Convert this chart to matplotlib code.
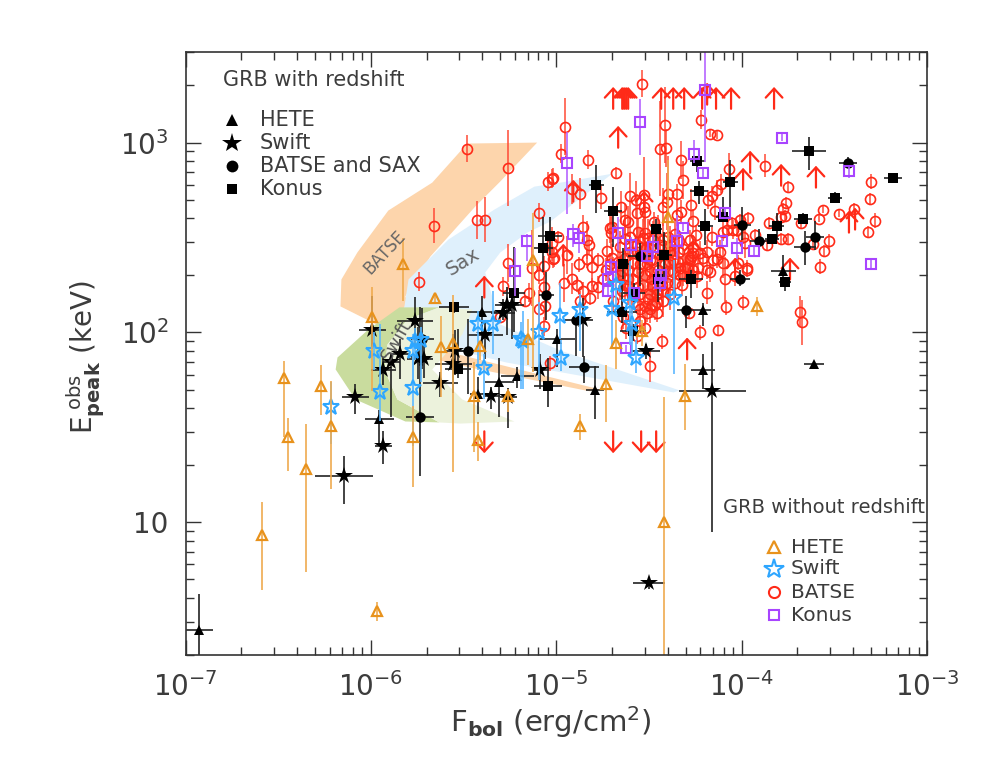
import numpy as np
import matplotlib
matplotlib.use('Agg')
import matplotlib.pyplot as plt
from matplotlib.ticker import LogLocator, FixedLocator, FixedFormatter, NullFormatter

plt.rcParams['font.family'] = 'DejaVu Sans'
plt.rcParams['mathtext.default'] = 'regular'

# all values below are log10(F_bol) and log10(E_peak)
# GRB without redshift: BATSE
batse_f = [-5.480,-5.259,-5.658,-5.426,-5.383,-5.092,-5.043,-5.022,-5.738,-5.259,
 -5.286,-5.129,-5.065,-5.092,-5.146,-5.065,-5.167,-5.302,-5.092,-5.059,
 -5.065,-5.022,-5.022,-5.016,-4.536,-4.951,-4.412,-4.218,-4.170,-4.132,
 -4.973,-4.828,-4.439,-4.407,-4.326,-3.873,-4.068,-4.677,-5.016,-4.315,
 -3.750,-3.302,-3.308,-4.871,-4.914,-4.757,-4.601,-4.569,-4.526,-4.396,
 -4.348,-4.402,-4.423,-4.181,-4.159,-4.132,-4.111,-4.272,-4.526,-4.650,
 -4.520,-4.563,-4.326,-4.348,-4.143,-4.262,-3.760,-3.776,-3.766,-3.787,
 -3.561,-3.475,-3.394,-3.582,-3.280,-3.318,-3.679,-3.852,-3.965,-4.008,
 -4.051,-4.628,-4.612,-4.472,-4.854,-4.709,-4.704,-4.833,-4.822,-4.989,
 -4.558,-4.359,-4.396,-4.278,-4.245,-4.159,-4.100,-4.046,-4.078,-3.927,
 -3.863,-3.787,-3.750,-3.529,-3.555,-3.615,-3.577,-3.970,-3.981,-4.116,
 -4.186,-4.224,-4.262,-4.267,-4.278,-4.294,-4.332,-4.305,-4.386,-4.337,
 -4.725,-4.655,-4.628,-4.601,-4.563,-4.531,-4.504,-4.774,-4.833,-4.876,
 -4.806,-4.941,-5.011,-4.154,-4.132,-4.100,-4.019,-4.914,-4.957,-4.887,
 -4.806,-4.774,-4.854,-4.817,-4.871,-4.747,-4.693,-4.655,-4.612,-4.558,
 -4.520,-4.493,-4.612,-4.585,-4.547,-4.509,-4.666,-4.644,-4.628,-4.585,
 -4.531,-4.558,-4.612,-4.628,-4.483,-4.493,-4.504,-4.456,-4.456,-4.483,
 -4.520,-4.509,-4.456,-4.693,-4.639,-4.547,-4.520,-4.623,-4.563,-4.429,
 -4.283,-4.224,-4.127,-4.084,-3.992,-3.685,-3.674,-4.186,-4.089,-4.035,
 -3.970,-4.493,-5.032,-4.402,-4.359,-4.321,-4.315,-4.289,-4.262,-4.235,
 -4.240,-4.186,-4.262,-4.278,-4.337,-4.386,-4.024,-3.992]
batse_e = [2.968,2.868,2.563,2.594,2.594,2.631,2.794,2.810,2.268,2.368,
 2.242,2.337,2.352,2.305,2.210,2.237,2.163,2.079,2.121,2.137,
 2.032,2.473,2.426,2.389,3.310,3.084,3.094,3.120,3.047,3.041,
 2.942,2.910,2.968,2.973,2.910,2.878,2.863,2.842,2.815,2.805,
 2.768,2.794,2.705,2.731,2.757,2.710,2.721,2.700,2.726,2.731,
 2.731,2.689,2.663,2.700,2.721,2.752,2.784,2.673,2.663,2.663,
 2.636,2.631,2.636,2.621,2.642,2.589,2.684,2.652,2.615,2.610,
 2.647,2.626,2.652,2.600,2.589,2.531,2.579,2.579,2.605,2.594,
 2.579,2.594,2.584,2.584,2.558,2.552,2.526,2.489,2.463,2.505,
 2.531,2.521,2.505,2.489,2.515,2.505,2.531,2.542,2.542,2.515,
 2.463,2.494,2.494,2.479,2.431,2.468,2.347,2.342,2.473,2.426,
 2.426,2.421,2.452,2.405,2.384,2.347,2.342,2.347,2.426,2.426,
 2.431,2.452,2.494,2.505,2.463,2.500,2.500,2.379,2.389,2.358,
 2.347,2.410,2.394,2.384,2.389,2.368,2.368,2.284,2.258,2.252,
 2.247,2.237,2.216,2.184,2.168,2.279,2.295,2.305,2.279,2.316,
 2.305,2.321,2.331,2.368,2.358,2.358,2.373,2.321,2.394,2.279,
 2.252,2.237,2.242,2.252,2.242,2.200,2.174,2.200,2.158,2.147,
 2.137,2.105,2.105,2.163,2.079,2.058,2.026,2.026,1.979,1.953,
 2.105,2.000,2.011,2.132,2.158,2.110,2.053,2.210,2.279,2.295,
 2.331,1.821,1.837,2.263,2.263,2.252,2.305,2.342,2.331,2.342,
 2.295,2.331,2.421,2.394,2.479,2.463,2.542,2.505]
batse_err = [.07,.20,.09,.10,.12,.05,.05,.05,.05,.10,
 .05,.20,.05,.05,.05,.05,.03,.03,.10,.08,
 .05,.08,.05,.05,.07,.15,.20,.05,.02,.02,
 .05,.05,.25,.10,.10,.06,.08,.03,.05,.10,
 .03,.04,.03,.08,.08,.06,.12,.10,.20,.20,
 .05,.15,.10,.05,.05,.05,.05,.08,.08,.08,
 .08,.10,.06,.06,.05,.06,.03,.03,.03,.03,
 .02,.02,.03,.02,.04,.03,.03,.03,.03,.03,
 .03,.08,.08,.05,.06,.08,.08,.10,.05,.03,
 .07,.08,.08,.05,.05,.05,.05,.05,.05,.03,
 .03,.03,.03,.04,.03,.03,.04,.04,.08,.06,
 .06,.06,.06,.06,.06,.06,.06,.06,.08,.06,
 .06,.08,.12,.10,.08,.10,.10,.04,.05,.04,
 .10,.10,.05,.05,.05,.08,.04,.08,.10,.04,
 .04,.06,.05,.04,.05,.08,.10,.10,.10,.10,
 .10,.10,.10,.10,.10,.10,.10,.08,.10,.10,
 .08,.08,.10,.08,.10,.10,.08,.10,.08,.07,
 .07,.05,.05,.05,.06,.05,.05,.06,.04,.04,
 .03,.04,.03,.04,.04,.08,.12,.06,.12,.05,
 .04,.08,.04,.08,.08,.06,.06,.06,.06,.06,
 .06,.05,.05,.05,.05,.10,.04,.04]

# the crowded middle of the BATSE cloud
dense_f = [-4.456,-4.423,-4.466,-4.429,-4.483,-4.332,-4.369,-4.170,-4.520,-4.547,
 -4.477,-4.450,-4.423,-4.493,-4.439,-4.493,-4.412,-4.369,-4.315,-4.375,
 -4.396,-4.208,-4.601,-4.698,-4.655,-4.709,-4.644,-4.547,-4.558,-4.590,
 -4.547,-4.493,-4.423,-4.386,-4.386,-4.342,-4.439,-4.698,-4.730,-4.563,
 -4.520,-4.483,-4.450]
dense_e = [2.226,2.163,2.147,2.252,2.279,2.305,2.316,2.316,2.526,2.452,
 2.489,2.500,2.489,2.447,2.463,2.384,2.358,2.384,2.437,2.410,
 2.321,2.394,2.426,2.558,2.252,2.358,2.216,2.200,2.147,2.195,
 2.121,2.121,2.216,2.200,2.373,2.373,2.410,2.394,2.331,2.426,
 2.437,2.384,2.331]
dense_err = [.10,.08,.08,.10,.10,.06,.06,.05,.12,.10,
 .10,.12,.10,.08,.10,.10,.08,.08,.07,.08,
 .06,.05,.10,.08,.08,.06,.07,.10,.08,.10,
 .06,.07,.10,.08,.08,.06,.10,.07,.06,.12,
 .10,.10,.10]

# lower limits (arrows up) and upper limits (arrows down)
lim_up_f = [-4.693,-4.644,-4.634,-4.623,-4.612,-4.434,-4.369,-4.310,-4.213,-4.186,-4.138,-4.057,-3.825,
 -4.666,-3.954,-3.992,-3.787,-3.599,-4.908,-4.526,-3.421,-3.388,-4.962,-3.739,-4.035,-4.262,-4.294,-5.388]
lim_up_e = [3.178,3.178,3.178,3.178,3.178,3.178,3.178,3.178,3.178,3.200,3.178,3.178,3.178,
 2.973,2.842,2.752,2.773,2.763,2.689,2.631,2.526,2.542,2.352,2.279,2.279,2.373,1.858,2.184]
lim_dn_f = [-4.693,-4.542,-4.461,-5.388]
lim_dn_e = [1.479,1.479,1.479,1.479]

# GRB without redshift: Konus
kon_f = [-5.156,-5.221,-4.941,-4.547,-4.256,-4.208,-4.197,-3.782,-3.421,-3.302,-4.089,-4.315,-4.666,-4.908,-4.876,
 -4.596,-4.477,-4.509,-4.348,-4.105,-4.024,-3.933,-4.704,-4.434,-4.439,-4.720,-4.720,-4.580,-4.623]
kon_e = [2.479,2.326,2.894,3.110,2.941,2.842,3.278,3.026,2.852,2.358,2.631,2.552,2.526,2.521,2.500,
 2.463,2.452,2.405,2.479,2.479,2.447,2.431,2.347,2.305,2.263,2.284,2.216,2.210,1.916]
kon_hi = [.04,.12,.16,.12,.07,.03,.30,.02,.02,.03,.02,.02,.08,.05,.05,
 .04,.06,.03,.14,.02,.05,.03,.04,.03,.03,.03,.03,.02,.02]
kon_lo = [.105,.135,.27,.175,.05,.03,.38,.02,.04,.03,.02,.02,.09,.07,.08,
 .05,.06,.03,.09,.02,.06,.03,.04,.04,.05,.03,.03,.02,.02]

# GRB without redshift: Swift
swi_f = [-6.213,-5.981,-5.949,-5.771,-5.771,-5.760,-5.728,-5.420,-5.340,-5.388,-5.189,
 -5.178,-5.092,-4.978,-4.973,-4.871,-4.699,-4.601,-4.677,-4.591,-4.569,-4.364]
swi_e = [1.606,1.900,1.684,1.705,1.900,1.953,1.958,2.042,2.047,1.811,1.963,
 1.953,2.000,2.084,1.868,2.116,2.121,2.153,2.252,2.042,1.868,2.179]
swi_hi = [.135,.10,.36,.19,.09,.07,.07,.07,.17,.075,.09,
 .16,.16,.175,.09,.085,.125,.225,.06,.10,.09,.205]
swi_lo = [.195,.10,.15,.305,.22,.10,.22,.24,.16,.16,.26,
 .25,.25,.12,.07,.215,.21,.22,.13,.16,.08,.40]

# GRB without redshift: HETE
het_f = [-5.825,-5.652,-5.992,-5.555,-5.620,-5.410,-5.151,-5.259,-5.442,-5.420,-5.771,-6.213,-6.267,-6.348,
 -4.871,-6.466,-6.445,-6.590,-5.965,-3.917,-4.536,-4.677,-4.730,-4.305,-4.396,-5.124,-4.418]
het_e = [2.363,2.179,2.079,1.947,1.921,1.926,1.968,1.663,1.663,1.432,1.448,1.505,1.716,1.279,
 1.505,1.758,1.448,.932,.532,2.137,2.005,1.947,1.726,1.663,2.610,2.379,1.000]
het_hi = [.135,.02,.16,.25,.165,.03,.105,.04,.18,.095,.165,.24,.11,.24,
 .065,.09,.10,.175,.05,.05,.06,.12,.105,.17,.30,.25,.66]
het_lo = [.20,.02,.39,.68,.26,.07,.14,.08,.295,.11,.26,.33,.15,.54,
 .07,.31,.18,.29,.05,.05,.075,.14,.20,.175,.175,.59,.70]

# GRB with redshift (black): HETE triangles
ztri_f = [-5.399,-5.954,-4.995,-5.307,-5.210,-4.790,-4.208,-4.208,-3.609,-3.776,-6.925,-5.420]
ztri_e = [2.110,1.542,1.968,1.737,1.769,1.695,1.800,2.116,1.832,2.326,.433,1.674]
ztri_xe = [.08,.08,.097,.08,.09,.05,.067,.045,.053,.067,.075,.045]
ztri_hi = [.08,.05,.05,.13,.05,.13,.085,.04,.015,.08,.19,.09]
ztri_lo = [.17,.14,.15,.18,.06,.15,.10,.08,.015,.06,.30,.105]

# Swift stars
zsta_f = [-5.760,-5.992,-5.841,-5.889,-5.932,-6.083,-5.932,-6.143,-5.747,-5.714,-5.626,-5.544,
 -5.555,-5.383,-5.350,-5.259,-5.286,-5.264,-5.237,-5.086,-4.854,-4.515,-4.159,-4.499]
zsta_e = [2.058,2.011,1.884,1.842,1.800,1.658,1.400,1.242,1.858,1.858,1.732,1.900,
 1.832,1.989,1.663,1.658,2.105,2.147,2.147,1.800,2.068,1.900,1.690,.680]
zsta_xe = [.097,.072,.05,.045,.065,.075,.045,.157,.06,.05,.095,.05,
 .10,.095,.045,.045,.065,.065,.065,.045,.05,.075,.18,.085]
zsta_hi = [.13,.18,.08,.05,.07,.07,.08,.105,.17,.10,.06,.115,
 .16,.07,.05,.05,.07,.09,.08,.085,.115,.04,.26,.03]
zsta_lo = [.13,.10,.13,.29,.075,.09,.095,.147,.105,.10,.07,.125,
 .15,.13,.065,.16,.04,.16,.18,.10,.195,.04,.74,.03]

# BATSE and SAX circles
zcir_f = [-5.733,-5.474,-4.849,-4.892,-5.054,-5.722,-4.299,-4.008,-3.906,-3.997,-3.658,-3.604,-3.426,-4.547]
zcir_e = [1.553,1.900,1.816,2.063,2.195,1.968,2.116,2.279,2.479,2.568,2.452,2.505,2.894,2.405]
zcir_xe = [.075,.08,.08,.06,.04,.06,.05,.055,.05,.045,.06,.05,.05,.065]
zcir_hi = [.58,.17,.06,.02,.125,.16,.075,.05,.065,.095,.08,.08,.03,.065]
zcir_lo = [.31,.225,.08,.185,.13,.16,.095,.035,.06,.08,.095,.07,.03,.16]

# Konus squares
zsqu_f = [-5.550,-5.032,-5.070,-5.226,-5.528,-5.043,-4.784,-4.693,-4.240,-4.229,-4.062,-3.636,-3.496,-3.184,
 -3.669,-3.810,-3.836,-4.197,-4.100,-4.461,-4.418,-4.639,-4.272,-3.766,-4.644,-4.585,-4.450,-4.580]
zsqu_e = [2.132,2.510,2.447,2.210,1.810,1.716,2.778,2.642,2.905,2.747,2.794,2.957,2.710,2.815,
 2.600,2.563,2.494,2.563,2.610,2.547,2.410,2.363,2.279,2.268,2.110,2.005,2.284,2.210]
zsqu_xe = [.08,.065,.05,.06,.07,.075,.04,.05,.04,.05,.04,.09,.04,.05,
 .05,.04,.04,.04,.04,.03,.04,.03,.065,.03,.08,.07,.03,.06]
zsqu_hi = [.03,.10,.16,.24,.21,.15,.105,.125,.02,.05,.115,.075,.03,.015,
 .03,.065,.02,.085,.105,.05,.12,.08,.05,.02,.16,.04,.085,.05]
zsqu_lo = [.03,.10,.13,.21,.05,.11,.15,.19,.06,.07,.15,.10,.03,.015,
 .03,.07,.02,.10,.03,.11,.12,.08,.095,.05,.06,.05,.125,.05]

# shaded regions of the three samples
batse_band_f = [-5.480,-5.103,-5.302,-5.437,-5.582,-5.679,-5.814,-5.738,-5.528,-4.765,-4.819,-5.464,-5.787,-5.916,
 -6.164,-6.159,-6.073,-5.906,-5.669]
batse_band_e = [2.995,3.000,2.795,2.663,2.505,2.400,2.190,2.000,1.884,1.700,1.690,1.815,1.890,2.016,
 2.137,2.279,2.421,2.642,2.789]
sax_band_f = [-4.698,-4.946,-5.118,-5.334,-5.582,-5.797,-5.819,-5.889,-5.593,-5.270,-4.367,-4.335,-4.978,-5.302,-5.383,-5.302,-5.156,-5.032]
sax_band_e = [2.836,2.794,2.768,2.647,2.489,2.279,2.137,1.984,1.921,1.842,1.684,1.695,1.905,2.042,2.316,2.421,2.526,2.584]
swift_dark_f = [-5.846,-5.631,-5.803,-5.910,-5.927,-5.857,-5.631,-5.814,-6.083,-6.190,-6.180,-6.013]
swift_dark_e = [2.132,2.132,2.068,1.937,1.805,1.647,1.526,1.531,1.647,1.805,1.868,2.016]
swift_light_f = [-5.631,-5.453,-5.507,-5.669,-5.507,-5.226,-5.517,-5.631,-5.857,-5.927,-5.910,-5.803]
swift_light_e = [2.132,2.121,1.989,1.805,1.647,1.531,1.520,1.526,1.647,1.805,1.937,2.068]

RED = '#ff2a18'
ORANGE = '#e8921c'
BLUE = '#2ea6ff'
PURPLE = '#a844ff'
INK = '#3c3c3c'
ARROW = '->,head_length=0.65,head_width=0.6'


def bars(ax, f, e, lo, hi, color, xe=None, lw=1.2, zorder=3):
    f = np.array(f)
    e = np.array(e)
    ax.vlines(10**f, 10**(e-np.array(lo)), 10**(e+np.array(hi)), colors=color, lw=lw, zorder=zorder)
    if xe is not None:
        xe = np.array(xe)
        ax.hlines(10**e, 10**(f-xe), 10**(f+xe), colors=color, lw=lw, zorder=zorder)


fig = plt.figure(figsize=(9.81, 7.63), dpi=100)
ax = fig.add_axes([185.5/981, 1-655/763, 741.5/981, 603/763])
ax.set_xscale('log')
ax.set_yscale('log')
ax.set_xlim(1e-7, 1e-3)
ax.set_ylim(2, 3000)

# bands
ax.fill(10**np.array(batse_band_f), 10**np.array(batse_band_e), color='#fdd5ac', lw=0, zorder=1)
ax.fill(10**np.array(sax_band_f), 10**np.array(sax_band_e), color='#dff0fc', lw=0, zorder=1.1)
ax.fill(10**np.array(swift_dark_f), 10**np.array(swift_dark_e), color='#c9dc9e', lw=0, zorder=1.2)
ax.fill(10**np.array(swift_light_f), 10**np.array(swift_light_e), color='#ecf2dc', lw=0, zorder=1.3)

# BATSE without z
bars(ax, batse_f, batse_e, batse_err, batse_err, '#ff4a36', lw=1.1, zorder=2)
bars(ax, dense_f, dense_e, dense_err, dense_err, '#ff4a36', lw=1.1, zorder=2)
ax.plot(10**np.array(batse_f), 10**np.array(batse_e), 'o', ms=7.2, mfc='none', mec=RED, mew=1.2, zorder=2.1)
ax.plot(10**np.array(dense_f), 10**np.array(dense_e), 'o', ms=7.2, mfc='none', mec=RED, mew=1.2, zorder=2.1)

# limits
for x, y in zip(lim_up_f, lim_up_e):
    ax.annotate('', xy=(10**x, 10**(y+.115)), xytext=(10**x, 10**y), zorder=2.2,
                arrowprops=dict(arrowstyle=ARROW, color=RED, lw=1.6, shrinkA=0, shrinkB=0))
for x, y in zip(lim_dn_f, lim_dn_e):
    ax.annotate('', xy=(10**x, 10**(y-.115)), xytext=(10**x, 10**y), zorder=2.2,
                arrowprops=dict(arrowstyle=ARROW, color=RED, lw=1.6, shrinkA=0, shrinkB=0))

# black points, with redshift
bars(ax, ztri_f, ztri_e, ztri_lo, ztri_hi, '#222222', ztri_xe)
ax.plot(10**np.array(ztri_f), 10**np.array(ztri_e), '^', ms=7, color='k', mew=0, zorder=3.1)
bars(ax, zsta_f, zsta_e, zsta_lo, zsta_hi, '#222222', zsta_xe)
ax.plot(10**np.array(zsta_f), 10**np.array(zsta_e), '*', ms=13, color='k', mew=0, zorder=3.1)
bars(ax, zcir_f, zcir_e, zcir_lo, zcir_hi, '#222222', zcir_xe)
ax.plot(10**np.array(zcir_f), 10**np.array(zcir_e), 'o', ms=7.5, color='k', mew=0, zorder=3.1)
bars(ax, zsqu_f, zsqu_e, zsqu_lo, zsqu_hi, '#222222', zsqu_xe)
ax.plot(10**np.array(zsqu_f), 10**np.array(zsqu_e), 's', ms=7.5, color='k', mew=0, zorder=3.1)

# Konus, Swift and HETE without z
bars(ax, kon_f, kon_e, kon_lo, kon_hi, '#b565ff', lw=1.2, zorder=4)
ax.plot(10**np.array(kon_f), 10**np.array(kon_e), 's', ms=6.5, mfc='none', mec=PURPLE, mew=1.5, zorder=4.1)
bars(ax, swi_f, swi_e, swi_lo, swi_hi, '#5cb8ff', lw=1.2, zorder=4.2)
ax.plot(10**np.array(swi_f), 10**np.array(swi_e), '*', ms=12, mfc='none', mec=BLUE, mew=1.5, zorder=4.3)
bars(ax, het_f, het_e, het_lo, het_hi, '#efaa4f', lw=1.2, zorder=4.4)
ax.plot(10**np.array(het_f), 10**np.array(het_e), '^', ms=7.5, mfc='none', mec=ORANGE, mew=1.6, zorder=4.5)

# axes cosmetics
for s in ax.spines.values():
    s.set_linewidth(1.2)
    s.set_color('#333333')
    s.set_zorder(6)
ax.xaxis.set_major_locator(FixedLocator([1e-7, 1e-6, 1e-5, 1e-4, 1e-3]))
ax.xaxis.set_major_formatter(FixedFormatter(['$10^{-7}$', '$10^{-6}$', '$10^{-5}$', '$10^{-4}$', '$10^{-3}$']))
ax.xaxis.set_minor_locator(LogLocator(base=10, subs=np.arange(2, 10), numticks=20))
ax.xaxis.set_minor_formatter(NullFormatter())
ax.yaxis.set_major_locator(FixedLocator([10, 100, 1000]))
ax.yaxis.set_major_formatter(FixedFormatter(['10', '$10^{2}$', '$10^{3}$']))
ax.yaxis.set_minor_locator(LogLocator(base=10, subs=np.arange(2, 10), numticks=20))
ax.yaxis.set_minor_formatter(NullFormatter())
ax.tick_params(which='major', direction='in', top=True, right=True, length=11, width=1.0,
               color='#333333', labelsize=20, labelcolor=INK, pad=12)
ax.tick_params(which='minor', direction='in', top=True, right=True, length=5.5, width=1.0, color='#333333')

fig.text(551/981, 1-722/763, r'F$_{\mathbf{bol}}$ (erg/cm$^{2}$)', fontsize=21, color=INK, ha='center', va='center')
fig.text(86/981, 1-357/763, r'E$_{\mathbf{peak}}^{\ obs}$ (keV)', fontsize=20, color=INK, rotation=90, ha='center', va='center')

# sample names on the bands
ax.text(.269, .667, 'BATSE', transform=ax.transAxes, rotation=47, color='#666666', fontsize=12, ha='center', va='center', zorder=5)
ax.text(.374, .652, 'Sax', transform=ax.transAxes, rotation=32, color='#666666', fontsize=14, ha='center', va='center', zorder=5)
ax.text(.285, .522, 'Swift', transform=ax.transAxes, rotation=60, color='#555555', fontsize=13, ha='center', va='center', zorder=5)

# legend, redshift
ax.text(.051, .954, 'GRB with redshift', transform=ax.transAxes, fontsize=15, color=INK, va='center')
ax.plot([.063], [.887], '^', ms=9, color='k', mew=0, transform=ax.transAxes)
ax.plot([.063], [.849], '*', ms=15, color='k', mew=0, transform=ax.transAxes)
ax.plot([.063], [.811], 'o', ms=8.5, color='k', mew=0, transform=ax.transAxes)
ax.plot([.063], [.773], 's', ms=7, color='k', mew=0, transform=ax.transAxes)
for yy, name in zip([.887, .849, .811, .773], ['HETE', 'Swift', 'BATSE and SAX', 'Konus']):
    ax.text(.1, yy, name, transform=ax.transAxes, fontsize=15, color=INK, va='center')

# legend, no redshift
ax.text(.997, .245, 'GRB without redshift', transform=ax.transAxes, fontsize=14, color=INK, va='center', ha='right', zorder=5)
ax.plot([.794], [.179], '^', ms=9, mfc='none', mec=ORANGE, mew=1.6, transform=ax.transAxes)
ax.plot([.794], [.143], '*', ms=15, mfc='none', mec=BLUE, mew=1.5, transform=ax.transAxes)
ax.plot([.794], [.104], 'o', ms=8, mfc='none', mec=RED, mew=1.5, transform=ax.transAxes)
ax.plot([.794], [.066], 's', ms=7, mfc='none', mec=PURPLE, mew=1.5, transform=ax.transAxes)
for yy, name in zip([.179, .143, .104, .066], ['HETE', 'Swift', 'BATSE', 'Konus']):
    ax.text(.816, yy, name, transform=ax.transAxes, fontsize=14.5, color=INK, va='center')

fig.savefig('out.png', dpi=100)
